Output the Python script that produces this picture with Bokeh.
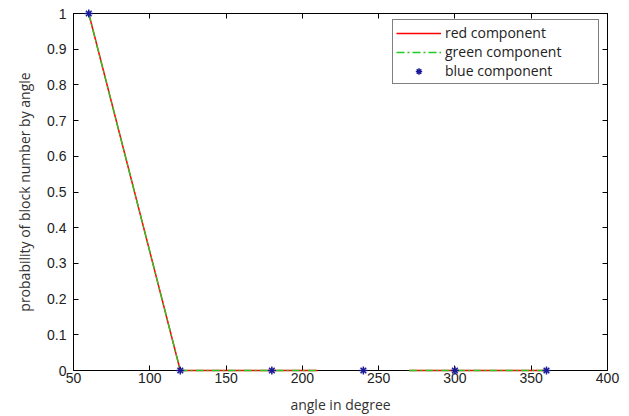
import math
from bokeh.plotting import figure
from bokeh.models import LinearAxis, FixedTicker, Legend, LegendItem, Range1d
from bokeh.embed import file_html
from bokeh.resources import INLINE

# data
line_angles = [60, 120, 180, 210, math.nan, 270, 300, 360]
red_prob = [1, 0, 0, 0, math.nan, 0, 0, 0]
green_prob = [1, 0, 0, 0, math.nan, 0, 0, 0]
blue_angles = [60, 120, 180, 240, 300, 360]
blue_prob = [1, 0, 0, 0, 0, 0]
x_ticks = [50, 100, 150, 200, 250, 300, 350, 400]
y_ticks = [0, 0.1, 0.2, 0.3, 0.4, 0.5, 0.6, 0.7, 0.8, 0.9, 1]
y_tick_labels = ["0", "0.1", "0.2", "0.3", "0.4", "0.5", "0.6", "0.7", "0.8", "0.9", "1"]

TICK_FONT = "Liberation Sans"
LABEL_FONT = "Open Sans"

p = figure(frame_width=534, frame_height=357, output_backend="svg", toolbar_location=None,
           x_range=Range1d(50, 400), y_range=Range1d(0, 1),
           min_border_left=73, min_border_right=22, min_border_top=13, min_border_bottom=46,
           x_axis_label="angle in degree", y_axis_label="probability of block number by angle")
p.xgrid.visible = False
p.ygrid.visible = False
p.outline_line_color = "black"
p.outline_line_width = 1
p.background_fill_color = "white"
p.border_fill_color = "white"

r_red = p.line(line_angles, red_prob, line_color="#ff0000", line_width=1.5, level="overlay")
r_green = p.line(line_angles, green_prob, line_color="#22cc22", line_width=1.3,
                 line_dash="8 3 2 3", level="overlay")
r_blue = p.scatter(blue_angles, blue_prob, marker="asterisk", size=8, line_color="#1a1a99",
                   line_width=1.5, level="overlay")

def style_axis(ax, ticks, labels=True):
    ax.ticker = FixedTicker(ticks=ticks)
    ax.minor_tick_line_color = None
    ax.major_tick_in = 5
    ax.major_tick_out = 0
    ax.axis_line_color = "black"
    ax.major_tick_line_color = "black"
    ax.major_label_text_font = TICK_FONT
    ax.major_label_text_font_size = "14px"
    ax.major_label_text_color = "#222222"
    ax.axis_label_text_font = LABEL_FONT
    ax.axis_label_text_font_size = "14px"
    ax.axis_label_text_font_style = "normal"
    ax.axis_label_text_color = "#333333"
    if not labels:
        ax.major_label_text_font_size = "0px"
        ax.major_label_standoff = 0

style_axis(p.xaxis[0], x_ticks)
style_axis(p.yaxis[0], y_ticks)
p.xaxis[0].major_label_standoff = 2
p.xaxis[0].axis_label_standoff = 9
p.yaxis[0].major_label_standoff = 7
p.yaxis[0].axis_label_standoff = 10
p.yaxis[0].major_label_overrides = {t: l for t, l in zip(y_ticks, y_tick_labels)}

top = LinearAxis()
style_axis(top, x_ticks, labels=False)
right = LinearAxis()
style_axis(right, y_ticks, labels=False)
p.add_layout(top, "above")
p.add_layout(right, "right")

legend = Legend(items=[
    LegendItem(label="red component", renderers=[r_red]),
    LegendItem(label="green component", renderers=[r_green]),
    LegendItem(label="blue component", renderers=[r_blue]),
], location=(319, 286))
legend.label_text_font = LABEL_FONT
legend.label_text_font_size = "14px"
legend.label_text_color = "#222222"
legend.border_line_color = "black"
legend.border_line_width = 1
legend.glyph_width = 45
legend.glyph_height = 16
legend.label_height = 16
legend.label_width = 150
legend.label_standoff = 4
legend.spacing = 0
legend.padding = 3
legend.margin = 0
legend.background_fill_alpha = 1
p.add_layout(legend)

open("out.html", "w").write(file_html(p, INLINE))
